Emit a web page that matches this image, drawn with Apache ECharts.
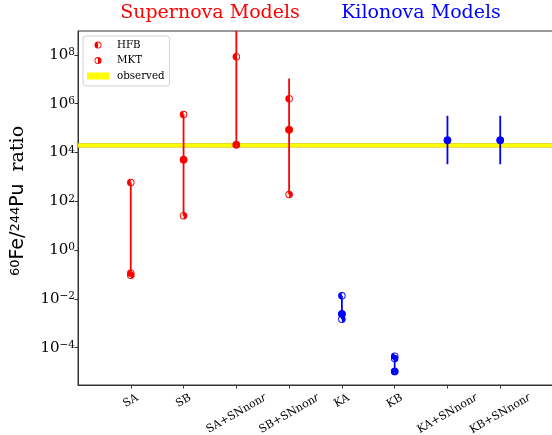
<!DOCTYPE html>
<html><head><meta charset="utf-8">
<script src="https://cdn.jsdelivr.net/npm/echarts@6/dist/echarts.min.js"></script>
<style>html,body{margin:0;padding:0;background:#fff}#c{width:552px;height:435px}</style>
</head><body><div id="c"></div>
<script>
// ---- data ----
const categories = ['SA', 'SB', 'SA+SNnonr', 'SB+SNnonr', 'KA', 'KB', 'KA+SNnonr', 'KB+SNnonr'];
const modelColors = ['#ff0000', '#ff0000', '#ff0000', '#ff0000', '#0000ff', '#0000ff', '#0000ff', '#0000ff'];
const hfbValues = [[589, 0.112], [3.6e5, 5.1e3], [8.5e7, 2.1e4], [1.6e6, 8.5e4], [1.35e-2, 2.4e-3], [4.5e-5, 1.06e-5], [3.2e4], [3.2e4]];
const mktValues = [[0.093], [25.7, 5.1e3], [2.1e4], [190, 8.5e4], [1.45e-3, 2.4e-3], [3.6e-5, 1.06e-5], [3.2e4], [3.2e4]];
const rangeLow = [0.093, 25.7, 2.1e4, 190, 1.45e-3, 1.06e-5, 3.3e3, 3.3e3];
const rangeHigh = [589, 3.6e5, 3e9, 1.07e7, 1.35e-2, 4.5e-5, 3.2e5, 3.2e5];
const observedBand = [1.64e4, 2.32e4];
const yTickExponents = [-4, -2, 0, 2, 4, 6, 8];
const yRange = [2.95e-6, 9.55e8];
const titles = ['Supernova Models', 'Kilonova Models'];

// ---- helpers ----
const lg = Math.log10;
const HFB_PATH = 'path://M10,0 A10,10 0 1,1 10,20 A10,10 0 1,1 10,0 Z M10,2.5 A7.5,7.5 0 1,0 10,17.5 A7.5,7.5 0 1,0 10,2.5 Z M10,20 A10,10 0 0,1 10,0 Z';
const MKT_PATH = 'path://M10,0 A10,10 0 1,1 10,20 A10,10 0 1,1 10,0 Z M10,2.5 A7.5,7.5 0 1,0 10,17.5 A7.5,7.5 0 1,0 10,2.5 Z M10,0 A10,10 0 0,1 10,20 Z';
const XFS = 11;

const cv = document.createElement('canvas').getContext('2d');
function textW(s, font) { cv.font = font; return cv.measureText(s).width; }
function labelWidth(name) {
  if (name.endsWith('SNnonr')) {
    return textW(name.slice(0, -1), XFS + 'px "DejaVu Serif"') + textW('r', 'italic ' + XFS + 'px "DejaVu Sans"');
  }
  return textW(name, XFS + 'px "DejaVu Serif"');
}
// matplotlib-style centred rotated labels: shift each label down by (len*sin30)/2
const axisData = [''].concat(categories.map(function (c) {
  const L = labelWidth(c);
  return { value: c, textStyle: { align: 'center', verticalAlign: 'middle', padding: [0.433 * L, 0.25 * L, 0, 0] } };
})).concat(['']);

function points(vals) {
  const out = [];
  vals.forEach(function (arr, i) {
    arr.forEach(function (v) {
      out.push({ value: [i + 1, lg(v)], itemStyle: { color: modelColors[i] } });
    });
  });
  return out;
}

const chart = echarts.init(document.getElementById('c'), null, { renderer: 'canvas' });
chart.setOption({
  animation: false,
  backgroundColor: '#ffffff',
  graphic: [
    { type: 'text', x: 210, y: 13, style: { text: titles[0], fill: '#ff0000', font: '19px "DejaVu Serif"', align: 'center', verticalAlign: 'middle' } },
    { type: 'text', x: 421, y: 13, style: { text: titles[1], fill: '#0000ff', font: '19px "DejaVu Serif"', align: 'center', verticalAlign: 'middle' } }
  ],
  grid: { left: 78, top: 31, right: -1, bottom: 50, show: true, borderColor: '#333', borderWidth: 1, outerBoundsMode: 'none', containLabel: false },
  legend: {
    orient: 'vertical', left: 83, top: 36,
    padding: [3, 5, 4, 4],
    itemWidth: 22, itemHeight: 7, itemGap: 3.5,
    backgroundColor: 'rgba(255,255,255,0.8)', borderColor: '#d0d0d0', borderWidth: 1, borderRadius: 3,
    textStyle: { fontFamily: 'DejaVu Serif', fontSize: 10.3, color: '#000', lineHeight: 12, padding: [0, 0, 0, 3] },
    data: [
      { name: 'HFB', icon: HFB_PATH },
      { name: 'MKT', icon: MKT_PATH },
      { name: 'observed', icon: 'rect', itemStyle: { color: '#ffff00' } }
    ]
  },
  xAxis: {
    type: 'category', boundaryGap: false, data: axisData,
    axisLine: { onZero: false, lineStyle: { color: '#333', width: 1 } },
    axisTick: { length: 3.5, lineStyle: { color: '#333' }, interval: function (idx) { return idx >= 1 && idx <= categories.length; } },
    axisLabel: {
      interval: 0, rotate: 30, align: 'center', verticalAlign: 'middle', margin: 12, color: '#000',
      formatter: function (v) {
        if (!v) return '';
        if (v.endsWith('SNnonr')) return '{b|' + v.slice(0, -1) + '}{i|r}';
        return '{b|' + v + '}';
      },
      rich: {
        b: { fontFamily: 'DejaVu Serif', fontSize: XFS, color: '#000' },
        i: { fontFamily: 'DejaVu Sans', fontStyle: 'italic', fontSize: XFS, color: '#000' }
      }
    },
    splitLine: { show: false }
  },
  yAxis: {
    type: 'value', min: lg(yRange[0]), max: lg(yRange[1]),
    name: '{s|60}{m|Fe/}{s|244}{m|Pu}{r|  ratio}',
    nameLocation: 'middle', nameRotate: 90, nameGap: 50,
    nameTextStyle: {
      padding: [0, 0, 0, 14],
      rich: {
        s: { fontFamily: 'DejaVu Sans', fontSize: 13, color: '#000', verticalAlign: 'top' },
        m: { fontFamily: 'DejaVu Sans', fontSize: 19, color: '#000' },
        r: { fontFamily: 'DejaVu Serif', fontSize: 19, color: '#000' }
      }
    },
    axisLine: { show: true, onZero: false, lineStyle: { color: '#333', width: 1 } },
    axisTick: { show: true, length: 3.5, lineStyle: { color: '#333' }, customValues: yTickExponents },
    axisLabel: {
      margin: 3, customValues: yTickExponents,
      formatter: function (v) { return '{b|10}{s|' + String(Math.round(v)).replace('-', '\u2212') + '}'; },
      rich: {
        b: { fontFamily: 'DejaVu Serif', fontSize: 15, color: '#000', lineHeight: 16 },
        s: { fontFamily: 'DejaVu Serif', fontSize: 10.5, color: '#000', verticalAlign: 'top' }
      }
    },
    splitLine: { show: false }
  },
  series: [
    {
      name: 'observed', type: 'line', data: [], z: 1,
      itemStyle: { color: '#ffff00' }, lineStyle: { color: '#ffff00' },
      markArea: {
        silent: true,
        itemStyle: { color: '#ffff00', borderColor: '#d6c400', borderWidth: 0.7 },
        data: [[{ yAxis: lg(observedBand[0]) }, { yAxis: lg(observedBand[1]) }]]
      }
    },
    {
      name: 'range', type: 'custom', z: 2, clip: true,
      data: categories.map(function (c, i) { return [i + 1, lg(rangeLow[i]), lg(rangeHigh[i])]; }),
      encode: { x: 0, y: [1, 2] },
      renderItem: function (params, api) {
        const p1 = api.coord([api.value(0), api.value(1)]);
        const p2 = api.coord([api.value(0), api.value(2)]);
        return { type: 'line', shape: { x1: p1[0], y1: p1[1], x2: p2[0], y2: p2[1] },
          style: { stroke: modelColors[params.dataIndex], lineWidth: 1.8 } };
      }
    },
    {
      name: 'HFB', type: 'scatter', z: 3, symbol: HFB_PATH, symbolSize: 7.5,
      itemStyle: { color: '#ff0000', opacity: 1 }, data: points(hfbValues)
    },
    {
      name: 'MKT', type: 'scatter', z: 3, symbol: MKT_PATH, symbolSize: 7.5,
      itemStyle: { color: '#ff0000', opacity: 1 }, data: points(mktValues)
    }
  ]
});
</script>
</body></html>
